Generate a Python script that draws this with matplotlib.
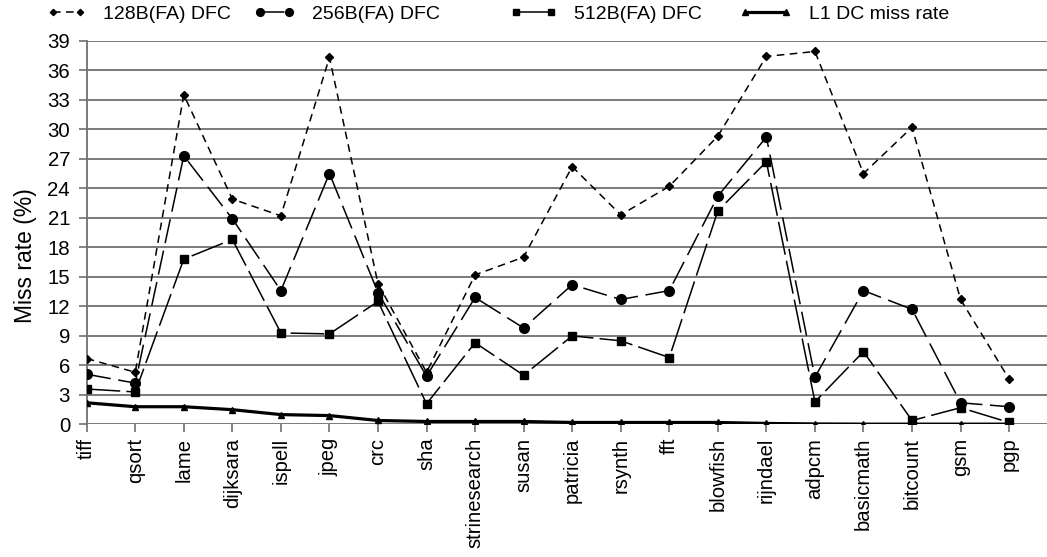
import numpy as np
import matplotlib
matplotlib.use('Agg')
import matplotlib.pyplot as plt

plt.rcParams['font.family'] = ['Liberation Sans', 'DejaVu Sans']

benchmarks = ['tiff', 'qsort', 'lame', 'dijksara', 'ispell', 'jpeg', 'crc', 'sha',
              'strinesearch', 'susan', 'patricia', 'rsynth', 'fft', 'blowfish',
              'rijndael', 'adpcm', 'basicmath', 'bitcount', 'gsm', 'pgp']

dfc128 = [6.7, 5.3, 33.5, 22.9, 21.2, 37.3, 14.3, 5.3, 15.2, 17.0,
          26.2, 21.3, 24.2, 29.3, 37.4, 37.9, 25.5, 30.2, 12.7, 4.6]
dfc256 = [5.1, 4.2, 27.3, 20.9, 13.6, 25.5, 13.4, 4.9, 12.9, 9.8,
          14.2, 12.7, 13.6, 23.2, 29.2, 4.8, 13.6, 11.7, 2.2, 1.8]
dfc512 = [3.6, 3.3, 16.8, 18.8, 9.3, 9.2, 12.5, 2.1, 8.3, 5.0,
          9.0, 8.5, 6.8, 21.7, 26.7, 2.3, 7.4, 0.4, 1.7, 0.2]
l1_miss = [2.2, 1.8, 1.8, 1.5, 1.0, 0.9, 0.4, 0.3, 0.3, 0.3,
           0.2, 0.2, 0.2, 0.2, 0.1, 0.05, 0.03, 0.03, 0.03, 0.03]

yticks = list(range(0, 40, 3))

W, H = 1047, 557
fig = plt.figure(figsize=(W / 100, H / 100), dpi=100)
ax = fig.add_axes([0.0828, 0.238, 0.9172, 0.689])

x = np.arange(len(benchmarks))

for v in yticks:
    ax.axhline(v, color='#707070', lw=1.3, zorder=0)

l1 = ax.plot(x, dfc128, color='black', lw=1.1, dashes=(5, 3.5), marker='D', ms=4,
             label='128B(FA) DFC', zorder=3)[0]
l2 = ax.plot(x, dfc256, color='black', lw=1.1, dashes=(16, 5), marker='o', ms=7,
             label='256B(FA) DFC', zorder=3)[0]
l3 = ax.plot(x, dfc512, color='black', lw=1.1, dashes=(22, 4), marker='s', ms=6,
             label='512B(FA) DFC', zorder=3)[0]
l4 = ax.plot(x, l1_miss, color='black', lw=2.3, marker='^', ms=5,
             label='L1 DC miss rate', zorder=4)[0]

ax.set_xlim(0, 19.78)
ax.set_ylim(0, 39)
ax.set_yticks(yticks)
ax.set_xticks(x)
ax.set_xticklabels(benchmarks, rotation=90, fontsize=14.6)
ax.tick_params(axis='y', labelsize=14.7, length=6, color='#707070', width=1.2, pad=6)
ax.tick_params(axis='x', length=5.5, color='#707070', width=1.2, pad=4)
ax.set_ylabel('Miss rate (%)', fontsize=16.5)
ax.yaxis.set_label_coords(-0.0518, 0.44)

for s in ['top', 'right', 'bottom']:
    ax.spines[s].set_visible(False)
ax.spines['left'].set_color('#707070')
ax.spines['left'].set_linewidth(1.3)

# legend entries placed one by one to follow the reference spacing
starts = [47, 254, 510, 739]
hlens = [2.0, 2.1, 2.4, 2.7]
for line, xs, hl in zip([l1, l2, l3, l4], starts, hlens):
    lg = fig.legend(handles=[line], loc='center left',
                    bbox_to_anchor=(xs / W, 1 - 14 / H), frameon=False,
                    fontsize=14, numpoints=2, handlelength=hl,
                    handletextpad=0.9, borderpad=0, borderaxespad=0,
                    markerscale=0.8)

fig.savefig('out.png', dpi=100)
